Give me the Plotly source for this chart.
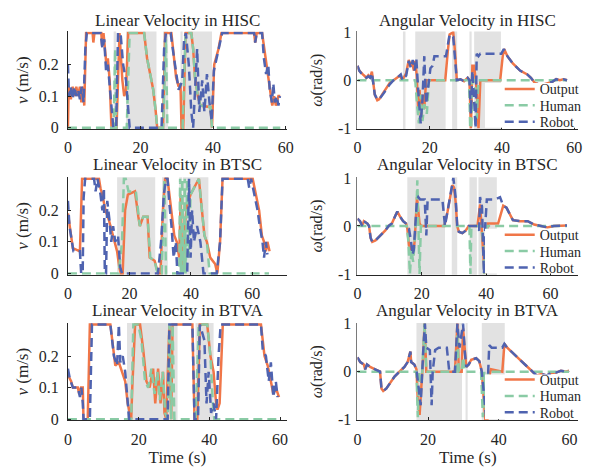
import plotly.graph_objects as go

# ---------------------------------------------------------------
# values, (time s, value) pairs
# ---------------------------------------------------------------

# HISC - linear velocity (m/s)
HISC_LIN_OUT = [(0, 0), (0.2, 0.13), (0.8, 0.09), (1.3, 0.13), (1.8, 0.10), (2.3, 0.13), (2.8, 0.10), (3.3, 0.13),
                (3.7, 0.08), (4.2, 0.13), (4.5, 0.07), (5.0, 0.30), (6.8, 0.30), (7.0, 0.27), (7.3, 0.30), (9.2, 0.30),
                (9.4, 0.26), (9.8, 0.30), (10.2, 0.25), (10.6, 0.20), (11.0, 0.22), (11.5, 0.15), (12.0, 0), (13.4, 0),
                (14.2, 0.30), (14.6, 0.22), (15.0, 0.15), (15.5, 0.10), (16.0, 0.12), (16.6, 0.30), (21.0, 0.30),
                (21.8, 0.22), (22.5, 0.18), (23.5, 0.12), (24.2, 0.05), (24.6, 0), (26.2, 0), (26.8, 0.30), (28.5, 0.30),
                (29.0, 0.25), (29.8, 0.16), (30.5, 0.13), (31.0, 0.14), (31.3, 0), (31.8, 0), (32.4, 0.30), (34.0, 0.30),
                (34.5, 0.25), (35.0, 0.16), (35.8, 0.10), (36.5, 0.07), (39.3, 0.065), (39.7, 0), (40.3, 0.20),
                (40.8, 0.22), (41.5, 0.25), (42.3, 0.30), (51.3, 0.30), (51.6, 0.27), (52.0, 0.30), (53.5, 0.30),
                (54.1, 0.25), (54.6, 0.20), (55.3, 0.15), (55.8, 0.10), (56.3, 0.07), (56.8, 0.10), (57.3, 0.07),
                (58.0, 0.10), (58.5, 0.10)]
HISC_LIN_HUM = [(0, 0), (12.6, 0), (13.0, 0.25), (13.3, 0), (16.2, 0), (17.0, 0.30), (21.0, 0.30), (21.8, 0.22),
                (22.5, 0.18), (23.5, 0.12), (24.2, 0.05), (24.6, 0), (26.2, 0), (27.0, 0.28), (27.4, 0), (31.6, 0),
                (32.4, 0.30), (34.0, 0.30), (34.5, 0.25), (35.0, 0.16), (35.8, 0.10), (36.5, 0.07), (39.3, 0.065),
                (39.7, 0), (58.5, 0)]
HISC_LIN_ROB = [(0, 0.20), (0.3, 0.10), (0.8, 0.13), (1.3, 0.09), (1.8, 0.13), (2.3, 0.10), (2.8, 0.12), (3.3, 0.09),
                (3.8, 0.13), (4.3, 0.08), (4.8, 0.25), (5.2, 0.30), (9.0, 0.30), (9.5, 0.25), (10.0, 0.28), (10.5, 0.18),
                (11.0, 0.20), (11.5, 0.13), (12.0, 0.05), (12.5, 0), (13.3, 0), (13.8, 0.30), (14.5, 0.30), (15.2, 0.20),
                (16.0, 0.15), (16.6, 0.05), (17.0, 0), (25.8, 0), (26.5, 0.25), (27.0, 0.30), (28.3, 0.30), (29.0, 0.24),
                (30.0, 0.16), (30.5, 0.12), (31.2, 0.14), (31.5, 0.15), (32.0, 0.28), (32.5, 0.30), (33.3, 0.20),
                (34.0, 0.05), (34.5, 0), (35.0, 0.12), (35.6, 0.25), (36.2, 0.05), (37.0, 0.15), (37.6, 0.05),
                (38.3, 0.17), (39.0, 0.08), (39.6, 0.02), (40.2, 0.18), (41.0, 0.22), (42.0, 0.28), (42.5, 0.30),
                (51.3, 0.30), (51.6, 0.27), (52.0, 0.30), (53.5, 0.30), (54.0, 0.22), (54.6, 0.17), (55.2, 0.20),
                (55.6, 0.12), (56.2, 0.08), (56.6, 0.14), (57.0, 0.08), (57.5, 0.10), (58.0, 0.07), (58.4, 0.10)]

# HISC - angular velocity (rad/s)
HISC_ANG_OUT = [(0, 0.30), (0.5, 0.20), (1.5, 0.12), (2.5, 0.05), (3.0, 0.10), (3.5, 0.05), (4.0, 0.18), (4.3, 0.0),
                (4.8, -0.30), (5.5, -0.42), (6.0, -0.40), (7.0, -0.28), (8.0, -0.15), (9.0, -0.05), (10.0, 0.0),
                (11.0, 0.05), (11.8, 0.10), (12.3, 0.0), (12.8, 0.05), (13.5, 0.15), (14.2, 0.42), (14.8, 0.30),
                (15.2, 0.35), (15.6, 0.20), (16.0, 0.40), (16.4, 0.10), (16.8, -0.60), (17.2, -0.20), (17.6, -0.85),
                (18.0, -0.30), (18.5, -0.60), (19.0, 0.0), (24.3, 0.0), (25.0, 0.60), (25.5, 0.95), (26.5, 1.0),
                (27.0, 0.60), (27.5, 0.0), (28.5, 0.02), (29.5, -0.02), (30.5, 0.05), (31.0, 0.0), (31.4, -1.0),
                (31.8, 0.30), (32.3, 0.30), (33.0, -0.20), (33.5, -1.0), (34.0, 0.0), (39.5, 0.0), (40.2, 0.50),
                (40.6, 0.65), (41.5, 0.50), (43.0, 0.35), (45.0, 0.20), (47.0, 0.12), (48.0, 0.05), (49.0, -0.05),
                (50.5, -0.10), (52.0, -0.08), (54.0, -0.03), (55.0, 0.02), (56.0, 0.0), (57.0, 0.02), (58.0, 0.0)]
HISC_ANG_HUM = [(0, 0), (16.0, 0), (16.5, -0.50), (17.0, -0.90), (17.5, -0.30), (18.0, -0.85), (18.5, -0.50),
                (19.2, -0.70), (19.8, 0), (30.9, 0), (31.2, -1.0), (31.5, -1.0), (31.8, 0), (32.5, 0), (33.0, -0.80),
                (33.5, 0), (58.0, 0)]
HISC_ANG_ROB = [(0, 0.30), (0.5, 0.20), (1.5, 0.10), (2.5, 0.05), (3.0, 0.08), (3.5, 0.05), (4.0, 0.15), (4.3, -0.05),
                (4.8, -0.30), (5.5, -0.40), (6.0, -0.40), (7.0, -0.30), (8.0, -0.18), (9.0, -0.08), (10.0, 0.0),
                (11.0, 0.05), (12.0, 0.12), (12.5, 0.0), (13.5, 0.10), (14.2, 0.40), (14.8, 0.25), (15.3, 0.42),
                (15.8, 0.20), (16.3, 0.45), (16.8, -0.20), (17.5, -0.90), (18.0, -0.40), (18.5, 0.50), (19.0, -0.50),
                (19.5, -0.20), (20.2, 0.25), (20.8, 0.30), (21.3, 0.50), (24.5, 0.50), (25.0, 0.70), (25.5, 0.95),
                (26.5, 0.90), (27.0, 0.50), (27.5, 0.0), (28.5, 0.02), (29.5, -0.02), (30.5, 0.05), (31.0, 0.0),
                (31.4, -0.70), (31.8, 0.20), (32.2, -0.30), (32.7, -1.0), (33.0, 0.55), (33.5, 0.50), (34.0, 0.55),
                (39.8, 0.55), (40.5, 0.65), (41.5, 0.50), (43.0, 0.35), (45.0, 0.20), (47.0, 0.12), (48.0, 0.05),
                (49.0, -0.05), (50.5, -0.10), (52.0, -0.08), (54.0, -0.03), (55.0, 0.02), (56.0, 0.0), (57.0, 0.02),
                (58.0, 0.0)]

# BTSC - linear velocity
BTSC_LIN_OUT = [(0, 0.19), (0.5, 0.15), (1.1, 0.12), (1.6, 0.08), (3.9, 0.07), (4.6, 0.30), (10.1, 0.30),
                (10.6, 0.27), (11.2, 0.25), (12.2, 0.20), (13.3, 0.17), (14.4, 0.13), (15.4, 0.10), (16.0, 0.07),
                (16.7, 0.02), (17.2, 0), (17.8, 0), (18.6, 0.20), (19.5, 0.25), (21.8, 0.26), (22.9, 0.18),
                (23.4, 0.15), (24.5, 0.18), (25.9, 0.18), (26.6, 0.05), (28.2, 0.04), (29.3, 0), (30.1, 0),
                (30.9, 0.20), (31.6, 0.30), (32.4, 0.30), (33.5, 0.20), (34.6, 0.12), (35.4, 0.10), (36.2, 0.05),
                (36.7, 0.25), (37.2, 0), (38.0, 0.15), (38.8, 0.22), (39.9, 0.25), (41.5, 0.28), (42.6, 0.30),
                (43.6, 0.20), (44.4, 0.12), (45.2, 0.10), (46.3, 0.05), (47.9, 0.03), (48.6, 0), (49.5, 0.10),
                (50.3, 0.30), (60.1, 0.30), (61.2, 0.25), (62.2, 0.20), (63.1, 0.12), (63.8, 0.10), (64.4, 0.07),
                (64.9, 0.10), (65.6, 0.07)]
BTSC_LIN_HUM = [(0, 0), (16.5, 0), (17.6, 0.10), (18.2, 0.30), (18.8, 0.30), (19.7, 0.26), (22.1, 0.26), (23.4, 0.15),
                (24.5, 0.18), (25.9, 0.18), (26.8, 0.05), (28.2, 0.04), (29.1, 0), (30.5, 0), (31.4, 0.30), (31.9, 0),
                (36.2, 0), (36.5, 0.30), (36.8, 0), (37.2, 0.30), (37.6, 0), (38.0, 0.30), (38.3, 0), (38.8, 0.30),
                (39.3, 0.05), (39.9, 0.25), (41.5, 0.28), (42.6, 0.30), (43.6, 0.20), (44.4, 0.12), (45.2, 0.10),
                (46.1, 0), (65.4, 0)]
BTSC_LIN_ROB = [(0, 0.23), (0.5, 0.15), (1.3, 0.10), (1.8, 0.07), (3.9, 0.07), (4.3, 0), (4.8, 0), (5.1, 0.24),
                (5.6, 0.30), (8.5, 0.30), (9.0, 0.26), (9.6, 0.30), (10.6, 0.25), (11.2, 0.20), (11.7, 0.27), (12.0, 0),
                (12.4, 0), (12.8, 0.23), (13.5, 0.17), (14.1, 0.10), (14.7, 0.15), (15.4, 0.10), (16.3, 0.12),
                (17.0, 0.02), (17.6, 0), (29.3, 0), (30.3, 0.10), (31.2, 0.25), (31.9, 0.30), (32.4, 0.30),
                (33.0, 0.22), (33.7, 0.15), (34.4, 0.05), (35.1, 0.10), (35.6, 0), (38.8, 0), (39.4, 0.30),
                (39.9, 0.05), (40.4, 0.20), (41.0, 0.10), (42.0, 0.15), (43.1, 0.10), (44.1, 0), (48.4, 0),
                (49.5, 0.10), (50.3, 0.30), (58.5, 0.30), (59.0, 0.27), (59.6, 0.30), (61.7, 0.20), (62.4, 0.15),
                (63.3, 0.10), (63.8, 0.05), (64.4, 0.10), (64.9, 0.06)]

# BTSC - angular velocity
BTSC_ANG_OUT = [(0, 0.15), (0.8, 0.10), (1.5, 0.0), (2.0, 0.10), (3.1, 0.05), (3.6, 0.0), (4.1, -0.25), (4.6, -0.33),
                (5.6, -0.30), (7.1, -0.20), (8.6, -0.10), (9.7, 0.0), (10.7, 0.05), (11.7, 0.20), (12.4, 0.30),
                (13.2, 0.20), (14.2, 0.10), (15.1, 0.05), (15.5, -0.05), (16.0, -0.40), (16.8, -0.50), (17.3, -0.60),
                (17.8, -0.30), (18.5, 0.60), (18.9, 0.30), (19.3, 0.05), (19.8, 0.0), (27.0, 0.0), (28.0, 0.30),
                (29.0, 0.70), (29.5, 0.85), (30.0, 0.80), (30.5, 0.50), (31.0, 0.0), (31.5, -0.12), (32.6, -0.15),
                (33.6, -0.10), (34.6, 0.0), (37.3, 0.0), (38.1, 0.45), (38.7, -0.20), (39.2, -0.70), (39.5, -1.0),
                (39.9, -0.30), (40.5, 0.05), (43.7, 0.05), (44.3, 0.20), (45.3, 0.42), (46.3, 0.38), (47.3, 0.25),
                (48.3, 0.12), (50.4, 0.10), (52.9, 0.10), (54.9, 0.03), (57.0, 0.0), (59.0, -0.03), (61.0, 0.0),
                (63.0, 0.0), (65.1, 0.01)]
BTSC_ANG_HUM = [(0, 0), (15.3, 0), (15.8, -0.30), (16.3, -1.0), (16.8, -0.50), (17.3, -0.75), (17.8, -0.30),
                (18.3, 0.20), (18.6, 0.95), (18.9, 0.10), (19.3, -1.0), (19.7, 0), (34.8, 0), (35.1, -1.0), (35.4, 0),
                (38.5, 0), (39.0, -0.30), (39.4, -1.0), (39.9, -0.20), (40.3, 0), (65.1, 0)]
BTSC_ANG_ROB = [(0, 0.15), (0.8, 0.10), (1.5, 0.0), (2.0, 0.10), (3.1, 0.05), (3.6, 0.0), (4.1, -0.25), (4.6, -0.33),
                (5.6, -0.30), (7.1, -0.20), (8.6, -0.10), (9.7, 0.0), (10.7, 0.05), (11.7, 0.20), (12.4, 0.30),
                (13.2, 0.20), (14.2, 0.10), (15.1, 0.05), (16.0, -0.05), (16.6, -0.30), (17.1, -0.60), (17.5, -0.50),
                (18.1, 0.30), (18.5, 0.55), (18.9, 0.60), (19.5, 0.55), (20.9, 0.55), (21.4, -0.20), (21.8, 0.55),
                (26.4, 0.55), (27.2, 0.0), (28.0, 0.30), (29.5, 0.90), (29.8, 1.0), (30.5, 0.60), (31.0, 0.0),
                (31.5, -0.12), (32.6, -0.15), (33.6, -0.10), (34.6, 0.0), (37.3, 0.0), (37.8, -0.10), (38.1, 0.60),
                (38.7, 0.40), (39.3, -1.0), (39.7, 0.0), (40.2, 0.55), (42.7, 0.55), (44.3, 0.60), (45.3, 0.42),
                (46.3, 0.38), (47.3, 0.25), (48.3, 0.12), (50.4, 0.10), (52.9, 0.10), (54.9, 0.03), (57.0, 0.0),
                (59.0, -0.03), (61.0, 0.0), (63.0, 0.0), (65.1, 0.01)]

# BTVA - linear velocity
BTVA_LIN_OUT = [(0, 0.14), (0.9, 0.12), (1.4, 0.10), (2.8, 0.10), (3.2, 0.08), (3.7, 0.10), (4.2, 0.10), (4.4, 0),
                (5.6, 0), (6.2, 0.30), (12.0, 0.30), (13.0, 0.20), (13.4, 0.17), (14.4, 0.18), (15.3, 0.15),
                (16.2, 0.12), (16.9, 0.05), (17.9, 0), (18.2, 0.10), (19.0, 0.30), (20.4, 0.30), (21.3, 0.22),
                (22.2, 0.12), (23.1, 0.10), (24.1, 0.16), (24.7, 0.05), (25.5, 0.16), (26.2, 0.05), (26.9, 0.15),
                (27.3, 0.02), (27.8, 0), (28.7, 0.30), (29.2, 0), (29.6, 0.30), (35.2, 0.30), (35.8, 0), (36.6, 0),
                (37.3, 0.30), (39.4, 0.30), (40.3, 0.20), (41.2, 0.15), (41.9, 0.05), (42.3, 0.03), (42.9, 0.05),
                (43.8, 0.30), (54.6, 0.30), (55.6, 0.20), (56.5, 0.17), (57.4, 0.12), (58.1, 0.08), (58.8, 0.10),
                (59.7, 0.07)]
BTVA_LIN_HUM = [(0, 0), (17.9, 0), (18.5, 0.30), (19.9, 0.30), (20.8, 0.25), (21.8, 0.12), (22.7, 0.10), (23.6, 0.16),
                (24.5, 0.08), (25.3, 0.15), (26.0, 0.06), (26.8, 0.15), (27.5, 0.02), (28.2, 0), (28.7, 0.30),
                (29.2, 0), (29.6, 0.30), (30.1, 0), (36.1, 0), (37.0, 0.30), (39.4, 0.30), (40.3, 0.20), (41.0, 0.05),
                (41.4, 0), (59.7, 0)]
BTVA_LIN_ROB = [(0, 0.16), (0.5, 0.13), (1.4, 0.10), (2.8, 0.10), (3.4, 0.07), (3.8, 0.10), (4.2, 0.05), (4.4, 0),
                (6.2, 0), (6.8, 0.30), (12.0, 0.30), (12.5, 0.25), (13.0, 0.20), (13.9, 0.17), (14.4, 0.30),
                (14.8, 0.18), (15.5, 0.20), (16.2, 0.15), (16.9, 0.05), (17.3, 0), (28.2, 0), (28.7, 0.30),
                (35.2, 0.30), (35.8, 0), (36.8, 0), (37.3, 0.30), (38.6, 0.25), (39.2, 0.05), (39.8, 0.15),
                (40.5, 0.02), (41.2, 0.05), (41.9, 0), (42.6, 0.20), (43.2, 0.30), (54.6, 0.30), (55.1, 0.22),
                (56.0, 0.20), (56.8, 0.12), (57.4, 0.18), (58.1, 0.07), (58.8, 0.12), (59.3, 0.07)]

# BTVA - angular velocity
BTVA_ANG_OUT = [(0, 0.30), (0.8, 0.20), (1.8, 0.15), (2.2, 0.05), (2.7, 0.15), (3.6, 0.10), (5.0, 0.05), (6.4, 0.0),
                (6.8, -0.35), (7.3, -0.40), (8.2, -0.35), (9.1, -0.25), (10.5, -0.10), (11.9, 0.0), (13.3, 0.10),
                (14.2, 0.20), (15.0, 0.42), (15.2, 0.20), (16.1, 0.15), (16.7, 0.05), (17.1, -0.60), (17.6, -0.90),
                (18.2, -0.20), (18.6, 0.30), (19.0, 1.0), (19.5, 0.0), (27.6, 0.0), (28.1, 0.60), (28.3, 1.0),
                (28.7, 0.0), (29.5, 0.0), (29.9, 0.90), (30.4, 0.40), (30.8, 0.10), (31.5, 0.15), (32.2, 0.25),
                (33.6, 0.28), (34.5, 0.22), (35.2, 0.0), (35.7, -0.50), (36.2, -1.0), (36.8, -1.0), (37.3, -0.10),
                (37.8, 0.05), (41.0, 0.0), (41.6, 0.58), (42.4, 0.50), (43.8, 0.40), (45.2, 0.30), (46.5, 0.20),
                (47.9, 0.10), (49.3, 0.0), (50.7, -0.08), (52.1, -0.05), (53.5, -0.08), (54.8, -0.03), (56.2, -0.02),
                (57.6, 0.02), (59.0, 0.0), (59.9, 0.02)]
BTVA_ANG_HUM = [(0, 0), (16.7, 0), (17.1, -0.95), (17.5, 0), (18.2, -0.20), (18.7, 0.50), (19.0, 1.0), (19.5, 0),
                (27.9, 0), (28.3, 0.80), (28.7, 0), (29.5, 0), (29.9, 0.30), (30.4, 0), (35.0, 0), (35.5, -0.95),
                (35.9, 0), (36.4, -0.90), (37.0, 0), (59.9, 0)]
BTVA_ANG_ROB = [(0, 0.30), (0.8, 0.20), (1.8, 0.15), (2.2, 0.05), (2.7, 0.15), (3.6, 0.10), (5.0, 0.05), (6.4, 0.0),
                (6.8, -0.35), (7.3, -0.40), (8.2, -0.35), (9.1, -0.25), (10.5, -0.10), (11.9, 0.0), (13.3, 0.10),
                (14.2, 0.20), (15.0, 0.42), (15.2, 0.20), (16.1, 0.15), (16.7, 0.05), (17.5, -0.50), (17.9, -0.70),
                (18.6, 0.40), (19.1, 1.0), (19.5, 0.50), (20.5, 0.45), (21.0, -0.70), (21.3, 0.0), (22.0, 0.45),
                (23.0, 0.50), (25.3, 0.50), (26.0, 0.0), (27.6, 0.0), (28.3, 1.0), (28.9, 0.50), (29.9, 1.0),
                (30.4, 0.40), (30.8, 0.10), (31.5, 0.15), (32.2, 0.25), (33.6, 0.28), (34.5, 0.22), (35.2, 0.0),
                (36.0, -0.60), (36.5, -1.0), (37.3, 0.55), (38.0, 0.50), (41.0, 0.50), (41.6, 0.58), (42.4, 0.50),
                (43.8, 0.40), (45.2, 0.30), (46.5, 0.20), (47.9, 0.10), (49.3, 0.0), (50.7, -0.08), (52.1, -0.05),
                (53.5, -0.08), (54.8, -0.03), (56.2, -0.02), (57.6, 0.02), (59.0, 0.0), (59.9, 0.02)]

# shared-control intervals (gray bands), seconds
SHADE_HISC_LIN = [(12.6, 13.3), (16.0, 24.4), (26.2, 27.6), (31.0, 31.6), (32.3, 39.7)]
SHADE_HISC_ANG = [(12.6, 13.3), (16.0, 24.4), (26.2, 27.6), (31.0, 31.6), (32.3, 39.7)]
SHADE_BTSC_LIN = [(16.0, 28.4), (30.6, 32.5), (36.2, 37.2), (37.4, 45.7)]
SHADE_BTSC_ANG = [(15.5, 27.2), (29.3, 31.0), (34.8, 37.1), (37.6, 43.3)]
SHADE_BTVA_LIN = [(16.7, 31.0), (36.1, 41.2)]
SHADE_BTVA_ANG = [(16.7, 29.6), (30.6, 31.2), (35.2, 41.7)]

TITLES = ["Linear Velocity in HISC", "Angular Velocity in HISC",
          "Linear Velocity in BTSC", "Angular Velocity in BTSC",
          "Linear Velocity in BTVA", "Angular Velocity in BTVA"]
SERIES = ["Output", "Human", "Robot"]
X_TICKS = [0, 20, 40, 60]
X_MAX = [60.3, 61.1, 71.2, 68.6, 61.9, 62.5]

PANELS = [
    (HISC_LIN_OUT, HISC_LIN_HUM, HISC_LIN_ROB, SHADE_HISC_LIN),
    (HISC_ANG_OUT, HISC_ANG_HUM, HISC_ANG_ROB, SHADE_HISC_ANG),
    (BTSC_LIN_OUT, BTSC_LIN_HUM, BTSC_LIN_ROB, SHADE_BTSC_LIN),
    (BTSC_ANG_OUT, BTSC_ANG_HUM, BTSC_ANG_ROB, SHADE_BTSC_ANG),
    (BTVA_LIN_OUT, BTVA_LIN_HUM, BTVA_LIN_ROB, SHADE_BTVA_LIN),
    (BTVA_ANG_OUT, BTVA_ANG_HUM, BTVA_ANG_ROB, SHADE_BTVA_ANG),
]

FONT = "Liberation Serif"
INK = "#262626"
COLORS = ["#F07648", "#8ACBA5", "#4F63B0"]
DASHES = ["solid", "9px,5px", "9px,5px"]

# the page keeps the browser's 8px body margin, so the figure is 16px smaller
# than the window and everything below is placed in window pixels minus 8
PAD = 8
W, H = 606 - 2 * PAD, 476 - 2 * PAD


def px_x(p):
    return (p - PAD) / W


def px_y(p):
    return 1 - (p - PAD) / H


X_DOM = [[px_x(65), px_x(288)], [px_x(360), px_x(585)]]
Y_DOM = [[px_y(125), px_y(24)], [px_y(276), px_y(175)], [px_y(427), px_y(326)]]
TITLE_Y = [px_y(13), px_y(162), px_y(313)]
LEG_ROW_Y = [84, 235, 385]      # window pixel centre of the first legend entry in each right panel
LEG_STEP = 17

fig = go.Figure()
layout = {}
annotations = []
shapes = []
leg_count = 0

for i, (out, hum, rob, shade) in enumerate(PANELS):
    n = i + 1
    row, col = divmod(i, 2)
    xa = "x" if n == 1 else "x%d" % n
    ya = "y" if n == 1 else "y%d" % n

    for k, pts in enumerate([out, hum, rob]):
        leg = None
        if col == 1:
            leg_count += 1
            leg = "legend" if leg_count == 1 else "legend%d" % leg_count
            layout[leg] = dict(x=px_x(505), xanchor="left",
                               y=px_y(LEG_ROW_Y[row] + LEG_STEP * k), yanchor="middle",
                               bgcolor="rgba(0,0,0,0)", borderwidth=0,
                               font=dict(family=FONT, size=14, color=INK))
        fig.add_trace(go.Scatter(
            x=[p[0] for p in pts], y=[p[1] for p in pts],
            mode="lines", name=SERIES[k], xaxis=xa, yaxis=ya,
            line=dict(color=COLORS[k], width=2.5, dash=DASHES[k]),
            showlegend=leg is not None,
            legend=leg if leg else "legend",
            hoverinfo="skip"))

    for a, b in shade:
        shapes.append(dict(type="rect", xref=xa, yref=ya + " domain", x0=a, x1=b, y0=0, y1=1,
                           fillcolor="#E2E2E2", line=dict(width=0), layer="below"))

    xkey = "xaxis" if n == 1 else "xaxis%d" % n
    ykey = "yaxis" if n == 1 else "yaxis%d" % n
    layout[xkey] = dict(domain=X_DOM[col], anchor=ya, range=[0, X_MAX[i]],
                        tickvals=X_TICKS, ticks="inside", ticklen=3, tickcolor=INK,
                        ticklabelstandoff=4,
                        showline=True, linecolor=INK, linewidth=1, showgrid=False, zeroline=False,
                        tickfont=dict(family=FONT, size=16, color=INK))
    if row == 2:
        layout[xkey]["title"] = dict(text="Time (s)", standoff=2,
                                     font=dict(family=FONT, size=17, color=INK))
    if col == 0:
        layout[ykey] = dict(domain=Y_DOM[row], anchor=xa, range=[-0.004, 0.305],
                            tickvals=[0, 0.1, 0.2], ticktext=["0", "0.1", "0.2"],
                            ticklabelstandoff=5,
                            title=dict(text="<i>v</i> (m/s)", standoff=5,
                                       font=dict(family=FONT, size=17, color=INK)),
                            linecolor=INK)
    else:
        layout[ykey] = dict(domain=Y_DOM[row], anchor=xa, range=[-1.015, 1.015],
                            tickvals=[-1, 0, 1], ticktext=["-1", "0", "1"],
                            ticklabelstandoff=2,
                            title=dict(text="<i>ω</i>(rad/s)", standoff=11,
                                       font=dict(family=FONT, size=16, color=INK)),
                            linecolor="#7A7A7A")
        # white legend box sitting over the lower right corner of the panel
        shapes.append(dict(type="rect", xref=xa + " domain", yref=ya + " domain",
                           x0=(490 - 360) / 225, x1=1.0, y0=0.012, y1=0.47,
                           fillcolor="white", line=dict(width=0), layer="above"))
    layout[ykey].update(ticks="inside", ticklen=3, tickcolor=INK, showline=True, linewidth=1,
                        showgrid=False, zeroline=False,
                        tickfont=dict(family=FONT, size=16, color=INK))

    annotations.append(dict(text=TITLES[i], xref="paper", yref="paper",
                            x=sum(X_DOM[col]) / 2, y=TITLE_Y[row], xanchor="center", yanchor="middle",
                            showarrow=False, font=dict(family=FONT, size=17, color=INK)))

fig.update_layout(**layout)
fig.update_layout(width=W, height=H, margin=dict(l=0, r=0, t=0, b=0),
                  paper_bgcolor="white", plot_bgcolor="white",
                  annotations=annotations, shapes=shapes,
                  font=dict(family=FONT, color=INK))

fig.write_html("out.html", config={"displayModeBar": False})
